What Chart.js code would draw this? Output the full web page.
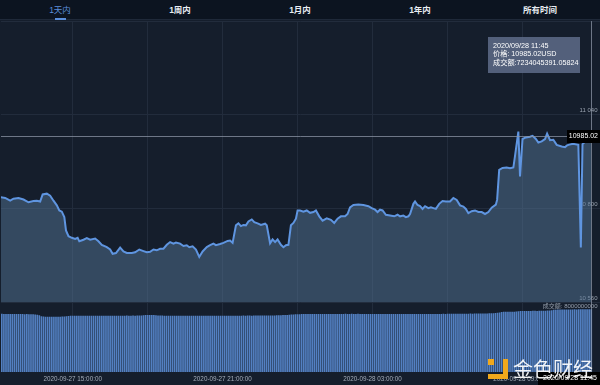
<!DOCTYPE html>
<html><head><meta charset="utf-8">
<script src="https://cdn.jsdelivr.net/npm/chart.js@4.4.1/dist/chart.umd.min.js"></script>
<style>
html,body{margin:0;padding:0;background:#151e2c;width:600px;height:385px;overflow:hidden;font-family:'Liberation Sans','Noto Sans CJK SC',sans-serif}
#tabs{position:absolute;left:0;top:0;width:600px;height:20px;background:#0c1420;border-bottom:1px solid #1f2939;box-sizing:border-box}
.tab{position:absolute;top:0;width:120px;height:20px;line-height:20px;text-align:center;font-size:8.5px;color:#e8ecf2;font-weight:bold;font-family:'Liberation Sans','Noto Sans CJK SC',sans-serif}
.tab.on{color:#5b8fdb;font-weight:normal}
#uline{position:absolute;left:55px;top:18px;width:11px;height:2px;background:#5b8fdb}
#wrap{position:absolute;left:0;top:20px;width:600px;height:365px}
#tip{position:absolute;left:488px;top:37px;width:87px;height:31px;padding:5px 0 0 5px;background:rgba(92,106,134,0.88);color:#fff;font-size:7.2px;line-height:8.4px;white-space:nowrap}
#wm{position:absolute;left:513px;top:357px;font-family:'Noto Sans CJK SC',sans-serif;font-size:20px;line-height:24px;color:rgba(255,255,255,0.93);white-space:nowrap}
.lg{position:absolute;background:#f0a81c}
</style></head>
<body>
<div id="tabs">
  <div class="tab on" style="left:0">1天内</div>
  <div class="tab" style="left:120px">1周内</div>
  <div class="tab" style="left:240px">1月内</div>
  <div class="tab" style="left:360px">1年内</div>
  <div class="tab" style="left:480px">所有时间</div>
  <div id="uline"></div>
</div>
<div id="wrap"><canvas id="c" width="600" height="365"></canvas></div>
<div id="tip">2020/09/28 11:45<br>价格: 10985.02USD<br>成交额:7234045391.05824</div>
<div class="lg" style="left:488px;top:359px;width:6px;height:6px"></div>
<div class="lg" style="left:503px;top:359px;width:5px;height:20px"></div>
<div class="lg" style="left:488px;top:374px;width:20px;height:5px"></div>
<div id="wm">金色财经</div>
<script>
// time in minutes since 2020-09-27 00:00
const priceTimes = [726,738,750,758,770,782,794,806,814,822,828,838,846,854,862,868,874,880,884,890,898,906,912,916,926,934,942,954,962,970,982,990,996,1004,1014,1022,1030,1042,1050,1060,1070,1078,1086,1094,1102,1110,1118,1126,1134,1142,1148,1158,1166,1174,1180,1188,1196,1204,1212,1222,1230,1238,1244,1254,1262,1272,1278,1284,1292,1298,1304,1310,1316,1322,1330,1336,1344,1352,1362,1366,1374,1380,1386,1392,1400,1406,1412,1418,1424,1430,1436,1440,1446,1454,1462,1470,1478,1484,1492,1500,1510,1520,1528,1536,1544,1554,1560,1566,1574,1586,1598,1610,1618,1626,1632,1638,1644,1652,1662,1672,1680,1686,1694,1700,1706,1710,1718,1722,1728,1734,1740,1746,1754,1760,1766,1772,1780,1788,1796,1806,1814,1822,1830,1838,1844,1850,1858,1866,1874,1882,1890,1898,1906,1916,1919,1924,1932,1942,1950,1958,1962,1970,1974,1980,1988,1998,2004,2012,2018,2026,2034,2039,2046,2054,2062,2074,2082,2086,2090,2101,2114,2120,2124,2145];
const prices = [10829,10827,10820,10825,10827,10823,10816,10819,10820,10818,10836,10838,10833,10820,10808,10795,10792,10778,10744,10729,10725,10722,10725,10716,10720,10724,10720,10723,10716,10707,10701,10695,10684,10686,10700,10690,10686,10686,10688,10695,10691,10688,10689,10695,10693,10697,10697,10707,10714,10710,10713,10710,10704,10706,10701,10703,10695,10676,10690,10701,10706,10710,10706,10709,10712,10717,10718,10712,10757,10762,10755,10758,10757,10767,10772,10765,10762,10758,10761,10757,10711,10721,10714,10721,10707,10701,10706,10707,10757,10763,10774,10795,10795,10792,10795,10789,10791,10795,10780,10769,10775,10771,10763,10774,10780,10780,10786,10803,10809,10810,10809,10806,10801,10797,10791,10797,10795,10784,10782,10780,10784,10780,10782,10778,10780,10786,10812,10818,10809,10806,10799,10806,10801,10803,10801,10799,10812,10819,10818,10818,10827,10822,10808,10805,10799,10788,10793,10795,10791,10791,10786,10791,10802,10810,10822,10899,10904,10905,10903,10905,10935,10997,10882,10978,10982,10984,10986,10978,10969,10972,10978,10992,10975,10976,10963,10959,10957,10961,10963,10966,10963,10700,10965,10985.02];
// 24h turnover per 5-minute bar, in units of 1e9 USD
const volStart = 725, volStep = 5;
const volume = [
7.28,7.29,7.28,7.28,7.27,7.28,7.27,7.27,7.26,7.27,7.26,7.26,7.25,7.26,7.25,7.25,7.24,7.22,7.18,7.12,
6.98,6.95,6.94,6.94,6.93,6.93,6.94,6.93,6.94,6.94,6.95,6.97,7.0,
7.03,7.04,7.04,7.05,7.04,7.05,7.05,7.04,7.05,7.06,7.05,7.05,
7.06,7.05,7.06,7.05,7.05,7.06,7.06,7.05,7.06,7.06,7.05,7.06,
7.06,7.06,7.05,7.06,7.07,7.06,7.06,7.07,7.06,7.07,7.08,7.10,
7.12,7.14,7.15,7.16,7.16,7.15,7.13,7.1,7.08,7.07,7.06,7.06,
7.06,7.05,7.06,7.06,7.05,7.05,7.06,7.05,7.05,7.04,7.05,7.05,
7.04,7.05,7.05,7.04,7.04,7.05,7.04,7.04,7.05,7.04,7.04,7.05,
7.05,7.04,7.05,7.05,7.06,7.05,7.06,7.06,7.05,7.06,7.06,7.06,
7.07,7.06,7.07,7.07,7.06,7.07,7.07,7.08,7.07,7.08,7.08,7.08,
7.09,7.09,7.1,7.1,7.11,7.12,7.13,7.14,7.15,7.16,7.18,7.2,
7.22,7.23,7.24,7.25,
7.26,7.27,7.27,7.26,7.27,7.28,7.27,7.27,7.28,7.27,7.28,7.28,
7.27,7.28,7.28,7.27,7.27,7.28,7.28,7.27,7.28,7.29,7.28,7.28,
7.29,7.28,7.28,7.29,7.28,7.28,7.27,7.28,7.28,7.27,7.27,7.28,
7.27,7.27,7.28,7.27,7.27,7.26,7.27,7.27,7.26,7.27,7.27,7.26,
7.26,7.27,7.26,7.26,7.27,7.26,7.26,7.27,7.27,7.26,7.27,7.27,
7.27,7.28,7.27,7.28,7.28,7.27,7.28,7.28,7.29,7.28,7.29,7.29,
7.29,7.3,7.29,7.3,7.3,7.31,7.3,7.31,7.31,7.32,7.31,7.32,
7.32,7.33,7.33,7.34,7.34,7.35,7.36,7.37,7.38,7.4,7.43,7.47,
7.52,7.54,7.55,7.55,7.56,7.56,7.57,7.58,
7.62,7.64,7.65,7.65,7.66,7.66,7.66,7.67,7.67,7.66,7.67,7.68,7.68,7.69,7.7,7.72,7.75,
7.8,7.82,7.83,7.83,7.84,7.84,7.85,7.84,7.85,7.85,7.86,7.85,7.86,7.86,7.87,7.86,7.87,7.87,7.88];
const xTickTimes = [900,1080,1260,1440,1620,1800,1980];
const xTickLabels = ['2020-09-27 15:00:00','','2020-09-27 21:00:00','','2020-09-28 03:00:00','','2020-09-28 09:00:00'];
const priceTicks = [10560,10800,11040,11280];
const volTick = 8;
const volTickLabel = '成交额: 8000000000';
const crossTime = 2145, crossPrice = 10985.02;
const crossPriceLabel = '10985.02';
const crossTimeLabel = '2020/09/28 11:45';

Chart.defaults.font.family = "'Liberation Sans','Noto Sans CJK SC',sans-serif";
const FONT = "'Liberation Sans','Noto Sans CJK SC',sans-serif";

const cross = {
  id: 'cross',
  afterDraw(chart) {
    const {ctx, chartArea: a, scales} = chart;
    const px = Math.round(scales.x.getPixelForValue(crossTime)) + 0.5;
    const py = Math.round(scales.y.getPixelForValue(crossPrice)) + 0.5;
    ctx.save();
    ctx.strokeStyle = 'rgba(140,150,165,0.75)';
    ctx.lineWidth = 1;
    ctx.beginPath();
    ctx.moveTo(a.left, py); ctx.lineTo(a.right, py);
    ctx.moveTo(px, a.top); ctx.lineTo(px, a.bottom);
    ctx.stroke();
    ctx.fillStyle = '#000';
    ctx.fillRect(a.right - 33, py - 6.5, 33, 13);
    ctx.fillStyle = '#fff';
    ctx.font = '7px ' + FONT;
    ctx.textAlign = 'right'; ctx.textBaseline = 'middle';
    ctx.fillText(crossPriceLabel, a.right - 2, py);
    ctx.fillStyle = '#000';
    ctx.fillRect(a.right - 62, a.bottom, 62, 13);
    ctx.fillStyle = '#fff';
    ctx.fillText(crossTimeLabel, a.right - 3, a.bottom + 6.5);
    ctx.restore();
  }
};

new Chart(document.getElementById('c'), {
  data: {
    datasets: [
      {
        type: 'line',
        yAxisID: 'y',
        data: priceTimes.map((t, i) => ({x: t, y: prices[i]})),
        borderColor: '#5f95e0',
        borderWidth: 2,
        backgroundColor: 'rgba(83,116,148,0.5)',
        fill: 'start',
        pointRadius: 0,
        tension: 0
      },
      {
        type: 'bar',
        yAxisID: 'y2',
        data: volume.map((v, i) => ({x: volStart + i * volStep, y: v})),
        backgroundColor: '#5380c2',
        borderWidth: 0,
        barPercentage: 0.8,
        categoryPercentage: 1
      }
    ]
  },
  options: {
    responsive: false,
    animation: false,
    devicePixelRatio: 1,
    layout: {padding: {left: 1, right: 0, top: 0, bottom: 0}},
    plugins: {legend: {display: false}, tooltip: {enabled: false}},
    scales: {
      x: {
        type: 'linear',
        offset: false,
        min: 728, max: 2166,
        afterBuildTicks: s => { s.ticks = xTickTimes.map(v => ({value: v})); },
        afterFit: s => { s.height = 13; },
        grid: {color: '#222c3c', drawTicks: false, offset: false},
        border: {display: false},
        ticks: {
          autoSkip: false, maxRotation: 0, padding: 3,
          color: '#a3acb9', font: {size: 6.3},
          callback: (v) => { const k = xTickTimes.indexOf(v); return k >= 0 ? xTickLabels[k] : ''; }
        }
      },
      y: {
        position: 'right',
        stack: 'main',
        stackWeight: 282,
        min: 10560, max: 11280,
        afterBuildTicks: s => { s.ticks = priceTicks.map(v => ({value: v})); },
        afterFit: s => { s.width = 0; },
        grid: {color: '#222c3c', drawTicks: false},
        border: {display: false},
        ticks: {
          mirror: true, padding: -2.5, labelOffset: -4,
          color: '#9aa3b0', font: {size: 6},
          callback: v => v >= 11280 ? '' : String(v).replace(/(\d{2})(\d{3})$/, '$1 $2')
        }
      },
      y2: {
        position: 'right',
        stack: 'main',
        stackWeight: 70,
        min: 0, max: 8.75,
        afterBuildTicks: s => { s.ticks = [{value: volTick}]; },
        afterFit: s => { s.width = 0; },
        grid: {display: false, drawTicks: false},
        border: {display: false},
        ticks: {
          mirror: true, padding: -2.5, labelOffset: -1.5,
          color: '#97a0ad', font: {size: 6},
          callback: () => volTickLabel
        }
      }
    }
  },
  plugins: [cross]
});
</script>
</body></html>
